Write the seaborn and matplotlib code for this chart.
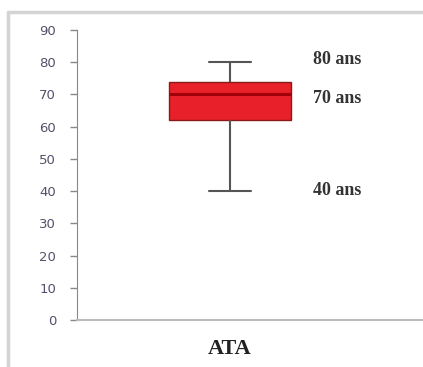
import matplotlib
matplotlib.use("Agg")
import matplotlib.pyplot as plt
from matplotlib.lines import Line2D
import seaborn as sns
import pandas as pd

# ages (years) chosen so that min=40, Q1=62, median=70, Q3=74, max=80
ages = [40, 58, 62, 62, 68, 70, 71, 74, 74, 78, 80]
group = ["ATA"] * len(ages)
annot_values = [80, 70, 40]
annot_labels = ["80 ans", "70 ans", "40 ans"]
yticks = list(range(0, 100, 10))

df = pd.DataFrame({"groupe": group, "age": ages})

sns.set_style("white")
fig = plt.figure(figsize=(4.23, 3.67), dpi=100)
ax = fig.add_axes([77 / 423, 1 - 320 / 367, 346 / 423, 290 / 367])

sns.boxplot(data=df, x="groupe", y="age", ax=ax, whis=(0, 100), width=0.40,
            color="#e8202a", saturation=1, fliersize=0, capwidths=0.135,
            boxprops=dict(edgecolor="#8a1a1a", linewidth=1.0),
            whiskerprops=dict(color="#555555", linewidth=1.5),
            capprops=dict(color="#555555", linewidth=1.5),
            medianprops=dict(color="#a00008", linewidth=2.2))

ax.set_ylim(0, 90)
ax.set_xlim(-0.5, -0.5 + 346 / 306)
ax.set_yticks(yticks)
ax.set_yticklabels([str(v) for v in yticks], fontsize=9.5, color="#55506a")
ax.tick_params(axis="y", direction="out", length=5, width=1, color="#888888", pad=10, left=True)
ax.set_xticks([0])
ax.set_xticklabels(["ATA"], fontsize=16, fontweight="bold", family="Liberation Serif", color="#222222")
ax.tick_params(axis="x", length=0, pad=14)
ax.set_xticks([-0.5, 0.5], minor=True)
ax.tick_params(axis="x", which="minor", direction="out", length=4, color="#aaaaaa")
ax.set_xlabel("")
ax.set_ylabel("")

for s in ["top", "right"]:
    ax.spines[s].set_visible(False)
ax.spines["left"].set_color("#888888")
ax.spines["bottom"].set_color("#bbbbbb")
ax.spines["bottom"].set_linewidth(1.5)

offsets = [1.0, -1.3, 0.3]
for v, off, lab in zip(annot_values, offsets, annot_labels):
    ax.text(0.27, v + off, lab, fontsize=13, fontweight="bold", family="Liberation Serif",
            color="#333333", va="center", ha="left")

# light grey frame on top and left of the picture
fig.add_artist(Line2D([8 / 423, 1], [1 - 12 / 367] * 2, color="#d4d4d4", lw=2.5, transform=fig.transFigure))
fig.add_artist(Line2D([8 / 423] * 2, [0, 1 - 12 / 367], color="#d4d4d4", lw=2.5, transform=fig.transFigure))

fig.savefig("out.png", dpi=100)
